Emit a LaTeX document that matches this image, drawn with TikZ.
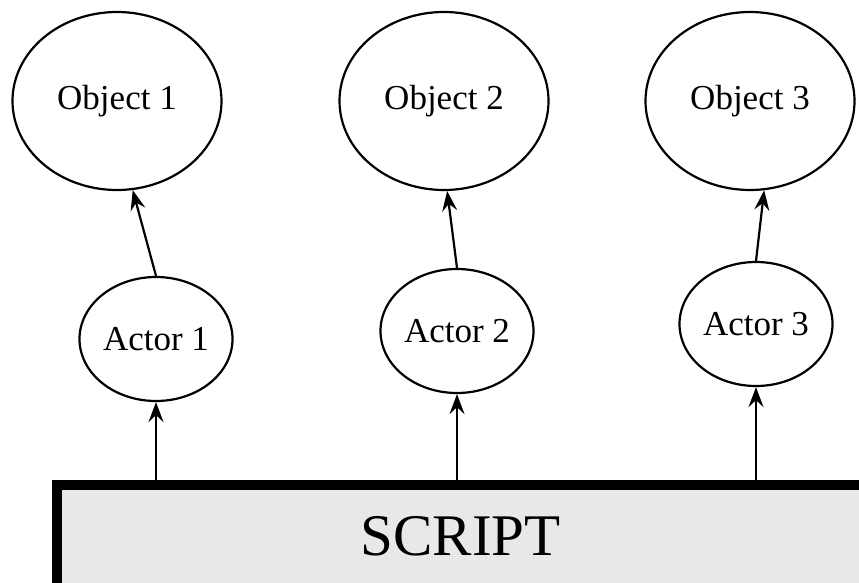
\documentclass[tikz,border=0pt]{standalone}
\usepackage{fontspec}
\setmainfont{Liberation Serif}
\usepackage{tikz}
\usetikzlibrary{positioning, shapes.geometric, arrows.meta}
\definecolor{scriptgray}{RGB}{232,232,232}

\begin{document}
\begin{tikzpicture}[
            x = 1pt, y = -1pt,
            > = {Stealth[length=20pt, width=15pt, inset=7pt]},
   every path/.style = {line width=2.2pt},
     objnode/.style = {ellipse, draw, line width=2.2pt, inner sep=0pt, minimum width=209pt, minimum height=178pt, font=\fontsize{35}{40}\selectfont},
     actnode/.style = {ellipse, draw, line width=2.2pt, inner sep=0pt, minimum width=153pt, minimum height=124pt, font=\fontsize{35}{40}\selectfont},
   scriptbox/.style = {rectangle, draw, line width=10pt, fill=scriptgray, inner sep=0pt, minimum width=807pt, minimum height=103pt, font=\fontsize{59}{64}\selectfont}
                        ]
\useasboundingbox (0,0) rectangle (859,583);
\node (obj1) [objnode] at (117,101) {Object 1};
\node (obj2) [objnode] at (444,101) {Object 2};
\node (obj3) [objnode] at (750,101) {Object 3};
\node (act1) [actnode] at (156,339) {Actor 1};
\node (act2) [actnode] at (457,331) {Actor 2};
\node (act3) [actnode] at (756,324) {Actor 3};
\node (script) [scriptbox] at (460.5,536.5) {SCRIPT};
\draw[->] (act1.north) to (obj1.-80);
\draw[->] (act2.north) to (obj2.-88);
\draw[->] (act3.north) to (obj3.-81);
\draw[->] (act1.south |- script.north) to (act1.south);
\draw[->] (act2.south |- script.north) to (act2.south);
\draw[->] (act3.south |- script.north) to (act3.south);
\end{tikzpicture}
\end{document}
